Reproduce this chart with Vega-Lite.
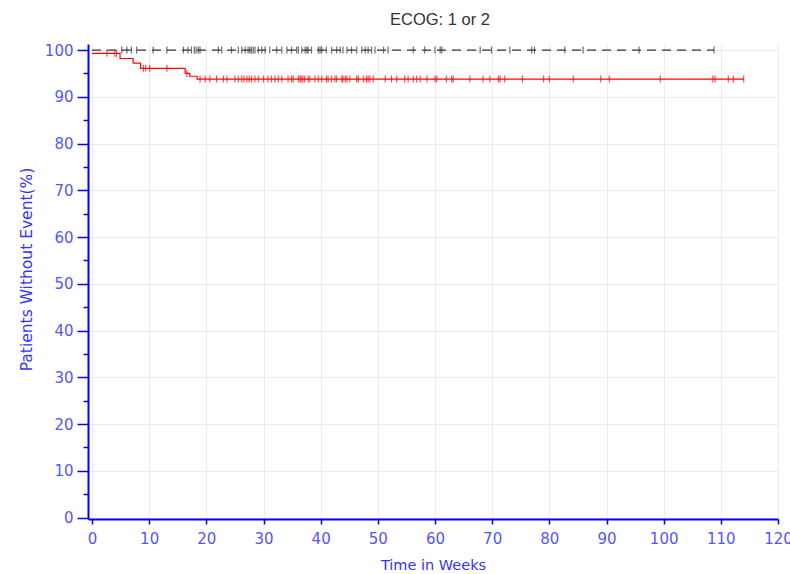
{
  "$schema": "https://vega.github.io/schema/vega-lite/v6.json",
  "width": 690,
  "height": 475,
  "autosize": "none",
  "padding": {"left": 88, "top": 44, "right": 12, "bottom": 55},
  "background": "white",
  "title": {"text": "ECOG: 1 or 2", "font": "Liberation Sans", "fontSize": 16.5, "fontWeight": "normal", "color": "#333333", "offset": 15, "dx": 7},
  "config": {"view": {"stroke": null}},
  "datasets": {
    "curves": [
      {"group": "Red", "t": 0, "s": 99.3},
      {"group": "Red", "t": 4.9, "s": 98.2},
      {"group": "Red", "t": 7.2, "s": 97.2},
      {"group": "Red", "t": 8.5, "s": 96.1},
      {"group": "Red", "t": 16.3, "s": 95.0},
      {"group": "Red", "t": 17.1, "s": 94.4},
      {"group": "Red", "t": 18.4, "s": 93.8},
      {"group": "Red", "t": 114.0, "s": 93.8},
      {"group": "Black", "t": 0, "s": 100},
      {"group": "Black", "t": 108.8, "s": 100}
    ],
    "censors": [
      {"group": "Red", "t": 2.6, "s": 99.3}, {"group": "Red", "t": 4.0, "s": 99.3}, {"group": "Red", "t": 4.3, "s": 99.3},
      {"group": "Red", "t": 9.0, "s": 96.1}, {"group": "Red", "t": 9.4, "s": 96.1}, {"group": "Red", "t": 10.1, "s": 96.1}, {"group": "Red", "t": 13.1, "s": 96.1},
      {"group": "Red", "t": 16.6, "s": 95.0},
      {"group": "Red", "t": 18.9, "s": 93.8}, {"group": "Red", "t": 19.8, "s": 93.8}, {"group": "Red", "t": 20.6, "s": 93.8}, {"group": "Red", "t": 21.8, "s": 93.8},
      {"group": "Red", "t": 23.0, "s": 93.8}, {"group": "Red", "t": 23.6, "s": 93.8}, {"group": "Red", "t": 25.0, "s": 93.8}, {"group": "Red", "t": 25.6, "s": 93.8},
      {"group": "Red", "t": 26.2, "s": 93.8}, {"group": "Red", "t": 26.6, "s": 93.8}, {"group": "Red", "t": 27.1, "s": 93.8}, {"group": "Red", "t": 27.5, "s": 93.8},
      {"group": "Red", "t": 27.9, "s": 93.8}, {"group": "Red", "t": 28.5, "s": 93.8}, {"group": "Red", "t": 29.1, "s": 93.8}, {"group": "Red", "t": 30.0, "s": 93.8},
      {"group": "Red", "t": 30.8, "s": 93.8}, {"group": "Red", "t": 31.4, "s": 93.8}, {"group": "Red", "t": 32.0, "s": 93.8}, {"group": "Red", "t": 32.6, "s": 93.8},
      {"group": "Red", "t": 33.2, "s": 93.8}, {"group": "Red", "t": 34.3, "s": 93.8}, {"group": "Red", "t": 34.9, "s": 93.8}, {"group": "Red", "t": 35.2, "s": 93.8},
      {"group": "Red", "t": 36.1, "s": 93.8}, {"group": "Red", "t": 36.4, "s": 93.8}, {"group": "Red", "t": 36.6, "s": 93.8}, {"group": "Red", "t": 36.9, "s": 93.8},
      {"group": "Red", "t": 37.2, "s": 93.8}, {"group": "Red", "t": 37.8, "s": 93.8}, {"group": "Red", "t": 38.1, "s": 93.8}, {"group": "Red", "t": 39.0, "s": 93.8},
      {"group": "Red", "t": 39.6, "s": 93.8}, {"group": "Red", "t": 40.2, "s": 93.8}, {"group": "Red", "t": 41.0, "s": 93.8}, {"group": "Red", "t": 41.3, "s": 93.8},
      {"group": "Red", "t": 41.9, "s": 93.8}, {"group": "Red", "t": 42.5, "s": 93.8}, {"group": "Red", "t": 42.8, "s": 93.8}, {"group": "Red", "t": 43.7, "s": 93.8},
      {"group": "Red", "t": 43.9, "s": 93.8}, {"group": "Red", "t": 44.3, "s": 93.8}, {"group": "Red", "t": 44.6, "s": 93.8}, {"group": "Red", "t": 45.1, "s": 93.8},
      {"group": "Red", "t": 46.3, "s": 93.8}, {"group": "Red", "t": 46.6, "s": 93.8}, {"group": "Red", "t": 47.5, "s": 93.8}, {"group": "Red", "t": 48.0, "s": 93.8},
      {"group": "Red", "t": 48.3, "s": 93.8}, {"group": "Red", "t": 48.6, "s": 93.8}, {"group": "Red", "t": 49.2, "s": 93.8}, {"group": "Red", "t": 51.3, "s": 93.8},
      {"group": "Red", "t": 52.4, "s": 93.8}, {"group": "Red", "t": 53.3, "s": 93.8}, {"group": "Red", "t": 54.7, "s": 93.8}, {"group": "Red", "t": 55.3, "s": 93.8},
      {"group": "Red", "t": 56.2, "s": 93.8}, {"group": "Red", "t": 56.8, "s": 93.8}, {"group": "Red", "t": 57.4, "s": 93.8}, {"group": "Red", "t": 58.6, "s": 93.8},
      {"group": "Red", "t": 60.0, "s": 93.8}, {"group": "Red", "t": 60.3, "s": 93.8}, {"group": "Red", "t": 62.0, "s": 93.8}, {"group": "Red", "t": 62.9, "s": 93.8},
      {"group": "Red", "t": 63.2, "s": 93.8}, {"group": "Red", "t": 66.1, "s": 93.8}, {"group": "Red", "t": 68.4, "s": 93.8}, {"group": "Red", "t": 69.6, "s": 93.8},
      {"group": "Red", "t": 71.1, "s": 93.8}, {"group": "Red", "t": 71.4, "s": 93.8}, {"group": "Red", "t": 72.2, "s": 93.8}, {"group": "Red", "t": 75.3, "s": 93.8},
      {"group": "Red", "t": 79.0, "s": 93.8}, {"group": "Red", "t": 80.0, "s": 93.8}, {"group": "Red", "t": 84.2, "s": 93.8}, {"group": "Red", "t": 89.0, "s": 93.8},
      {"group": "Red", "t": 90.5, "s": 93.8}, {"group": "Red", "t": 99.4, "s": 93.8}, {"group": "Red", "t": 108.6, "s": 93.8}, {"group": "Red", "t": 109.0, "s": 93.8},
      {"group": "Red", "t": 111.3, "s": 93.8}, {"group": "Red", "t": 112.2, "s": 93.8}, {"group": "Red", "t": 114.0, "s": 93.8},
      {"group": "Black", "t": 5.2, "s": 100}, {"group": "Black", "t": 6.1, "s": 100}, {"group": "Black", "t": 6.9, "s": 100}, {"group": "Black", "t": 7.8, "s": 100},
      {"group": "Black", "t": 10.7, "s": 100}, {"group": "Black", "t": 13.1, "s": 100}, {"group": "Black", "t": 16.0, "s": 100}, {"group": "Black", "t": 16.8, "s": 100},
      {"group": "Black", "t": 17.4, "s": 100}, {"group": "Black", "t": 17.9, "s": 100}, {"group": "Black", "t": 18.2, "s": 100}, {"group": "Black", "t": 18.6, "s": 100},
      {"group": "Black", "t": 18.9, "s": 100}, {"group": "Black", "t": 22.1, "s": 100}, {"group": "Black", "t": 22.7, "s": 100}, {"group": "Black", "t": 24.4, "s": 100},
      {"group": "Black", "t": 25.6, "s": 100}, {"group": "Black", "t": 26.2, "s": 100}, {"group": "Black", "t": 26.8, "s": 100}, {"group": "Black", "t": 27.3, "s": 100},
      {"group": "Black", "t": 27.6, "s": 100}, {"group": "Black", "t": 27.9, "s": 100}, {"group": "Black", "t": 28.2, "s": 100}, {"group": "Black", "t": 28.5, "s": 100},
      {"group": "Black", "t": 29.1, "s": 100}, {"group": "Black", "t": 29.7, "s": 100}, {"group": "Black", "t": 30.3, "s": 100}, {"group": "Black", "t": 31.1, "s": 100},
      {"group": "Black", "t": 32.3, "s": 100}, {"group": "Black", "t": 33.2, "s": 100}, {"group": "Black", "t": 34.1, "s": 100}, {"group": "Black", "t": 34.9, "s": 100},
      {"group": "Black", "t": 35.8, "s": 100}, {"group": "Black", "t": 36.1, "s": 100}, {"group": "Black", "t": 36.7, "s": 100}, {"group": "Black", "t": 37.3, "s": 100},
      {"group": "Black", "t": 37.6, "s": 100}, {"group": "Black", "t": 37.8, "s": 100}, {"group": "Black", "t": 38.4, "s": 100}, {"group": "Black", "t": 39.6, "s": 100},
      {"group": "Black", "t": 39.9, "s": 100}, {"group": "Black", "t": 40.2, "s": 100}, {"group": "Black", "t": 41.0, "s": 100}, {"group": "Black", "t": 41.9, "s": 100},
      {"group": "Black", "t": 42.8, "s": 100}, {"group": "Black", "t": 43.4, "s": 100}, {"group": "Black", "t": 43.9, "s": 100}, {"group": "Black", "t": 44.6, "s": 100},
      {"group": "Black", "t": 45.4, "s": 100}, {"group": "Black", "t": 46.3, "s": 100}, {"group": "Black", "t": 47.2, "s": 100}, {"group": "Black", "t": 47.8, "s": 100},
      {"group": "Black", "t": 48.3, "s": 100}, {"group": "Black", "t": 48.9, "s": 100}, {"group": "Black", "t": 49.5, "s": 100}, {"group": "Black", "t": 51.0, "s": 100},
      {"group": "Black", "t": 51.8, "s": 100}, {"group": "Black", "t": 56.2, "s": 100}, {"group": "Black", "t": 58.2, "s": 100}, {"group": "Black", "t": 60.0, "s": 100},
      {"group": "Black", "t": 60.9, "s": 100}, {"group": "Black", "t": 61.2, "s": 100}, {"group": "Black", "t": 67.9, "s": 100}, {"group": "Black", "t": 69.9, "s": 100},
      {"group": "Black", "t": 73.1, "s": 100}, {"group": "Black", "t": 76.9, "s": 100}, {"group": "Black", "t": 77.4, "s": 100}, {"group": "Black", "t": 82.7, "s": 100},
      {"group": "Black", "t": 85.9, "s": 100}, {"group": "Black", "t": 95.7, "s": 100}, {"group": "Black", "t": 108.8, "s": 100}
    ]
  },
  "encoding": {
    "x": {
      "field": "t", "type": "quantitative",
      "scale": {"domain": [-0.7, 120], "nice": false, "zero": false},
      "axis": {
        "title": "Time in Weeks", "values": [0, 10, 20, 30, 40, 50, 60, 70, 80, 90, 100, 110, 120],
        "labelFont": "DejaVu Sans", "labelFontSize": 15, "labelColor": "#5555ff",
        "titleFont": "DejaVu Sans", "titleFontSize": 14.5, "titleFontWeight": "normal", "titleColor": "#3333ff",
        "domainColor": "#0000ff", "domainWidth": 2, "tickColor": "#0000ff", "tickWidth": 1.5, "tickSize": 5,
        "labelPadding": 7, "titlePadding": 12, "labelFlush": false,
        "gridColor": "#ececec", "gridWidth": 1
      }
    },
    "y": {
      "field": "s", "type": "quantitative",
      "scale": {"domain": [-0.3, 101.3], "nice": false, "zero": false},
      "axis": {
        "title": "Patients Without Event(%)",
        "values": [0, 5, 10, 15, 20, 25, 30, 35, 40, 45, 50, 55, 60, 65, 70, 75, 80, 85, 90, 95, 100],
        "labelExpr": "datum.value % 10 === 0 ? datum.label : ''",
        "labelFont": "DejaVu Sans", "labelFontSize": 15, "labelColor": "#5555ff",
        "titleFont": "DejaVu Sans", "titleFontSize": 15.5, "titleFontWeight": "normal", "titleColor": "#3333ff",
        "titleY": 225,
        "domainColor": "#0000ff", "domainWidth": 2, "tickColor": "#0000ff", "tickWidth": 1.5,
        "tickSize": {"condition": {"test": "datum.value % 10 !== 0", "value": 5}, "value": 11},
        "gridOpacity": {"condition": {"test": "datum.value % 10 !== 0", "value": 0}, "value": 1},
        "labelPadding": 4, "titlePadding": 10,
        "gridColor": "#ececec", "gridWidth": 1
      }
    }
  },
  "layer": [
    {
      "data": {"name": "curves"},
      "mark": {"type": "line", "interpolate": "step-after", "strokeWidth": 1.2},
      "encoding": {
        "color": {"field": "group", "type": "nominal", "scale": {"domain": ["Red", "Black"], "range": ["#ff0000", "#333333"]}, "legend": null},
        "strokeDash": {"field": "group", "type": "nominal", "scale": {"domain": ["Red", "Black"], "range": [[1, 0], [9, 6]]}, "legend": null}
      }
    },
    {
      "data": {"name": "censors"},
      "mark": {"type": "tick", "orient": "vertical", "size": 7, "thickness": 1.2},
      "encoding": {
        "color": {"field": "group", "type": "nominal", "scale": {"domain": ["Red", "Black"], "range": ["#ff0000", "#333333"]}, "legend": null}
      }
    }
  ]
}
